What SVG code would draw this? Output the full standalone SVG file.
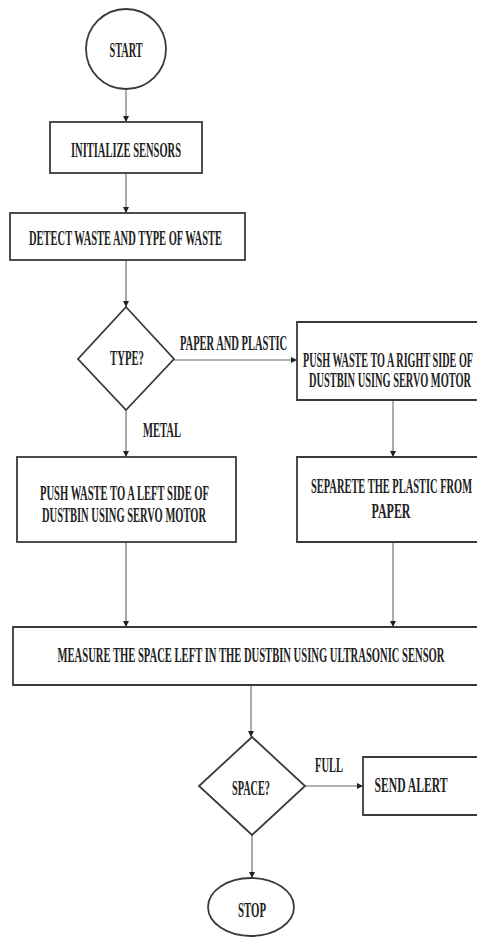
<svg xmlns="http://www.w3.org/2000/svg" width="477" height="937" viewBox="0 0 477 937">
<style>
.shape{fill:#fff;stroke:#3a3a3a;stroke-width:1.8}
.open{fill:#fff;stroke:#3a3a3a;stroke-width:1.8}
.conn{stroke:#666;stroke-width:1.1;fill:none;marker-end:url(#ah)}
text{font-family:"Liberation Serif","Times New Roman",serif;font-weight:bold;font-size:20px;fill:#222;text-anchor:middle}
</style>
<defs>
<marker id="ah" viewBox="0 0 10 10" refX="10" refY="5" markerWidth="6" markerHeight="6" markerUnits="userSpaceOnUse" orient="auto">
<path d="M0,0 L10,5 L0,10 z" fill="#222"/>
</marker>
</defs>
<rect width="477" height="937" fill="#fff"/>
<g id="connectors">
<line class="conn" x1="126" y1="89" x2="126" y2="122"/>
<line class="conn" x1="126" y1="173" x2="126" y2="213"/>
<line class="conn" x1="126" y1="260" x2="126" y2="307"/>
<line class="conn" x1="174" y1="360" x2="297" y2="360"/>
<line class="conn" x1="126" y1="410" x2="126" y2="457"/>
<line class="conn" x1="393" y1="400" x2="393" y2="457"/>
<line class="conn" x1="126" y1="542" x2="126" y2="627"/>
<line class="conn" x1="393" y1="542" x2="393" y2="627"/>
<line class="conn" x1="251" y1="685" x2="251" y2="737"/>
<line class="conn" x1="305" y1="786" x2="363" y2="786"/>
<line class="conn" x1="252" y1="835" x2="252" y2="878"/>
<text transform="translate(233.5,350) scale(0.52,1)" textLength="206" lengthAdjust="spacingAndGlyphs">PAPER AND PLASTIC</text>
<text transform="translate(162,437) scale(0.52,1)" textLength="73" lengthAdjust="spacingAndGlyphs">METAL</text>
<text transform="translate(329,772) scale(0.52,1)" textLength="54" lengthAdjust="spacingAndGlyphs">FULL</text>
</g>
<g id="start">
<circle class="shape" cx="126" cy="49" r="40"/>
<text transform="translate(126,57) scale(0.52,1)" textLength="63.5" lengthAdjust="spacingAndGlyphs">START</text>
</g>
<g id="init">
<rect class="shape" x="50" y="122" width="152" height="51"/>
<text transform="translate(126,157) scale(0.52,1)" textLength="211.5" lengthAdjust="spacingAndGlyphs">INITIALIZE SENSORS</text>
</g>
<g id="detect">
<rect class="shape" x="10" y="213" width="235" height="47"/>
<text transform="translate(125.5,245) scale(0.52,1)" textLength="371" lengthAdjust="spacingAndGlyphs">DETECT WASTE AND TYPE OF WASTE</text>
</g>
<g id="type">
<polygon class="shape" points="126,307 174,359 126,410 78,359"/>
<text transform="translate(127,365) scale(0.52,1)" textLength="65" lengthAdjust="spacingAndGlyphs">TYPE?</text>
</g>
<g id="pushRight">
<path class="open" d="M477,322 H297 V400 H477"/>
<text transform="translate(388,367) scale(0.52,1)" textLength="327" lengthAdjust="spacingAndGlyphs">PUSH WASTE  TO A RIGHT SIDE OF</text>
<text transform="translate(390,387) scale(0.52,1)" textLength="311.5" lengthAdjust="spacingAndGlyphs">DUSTBIN USING SERVO MOTOR</text>
</g>
<g id="pushLeft">
<rect class="shape" x="17" y="457" width="219" height="85"/>
<text transform="translate(124.5,500) scale(0.52,1)" textLength="325" lengthAdjust="spacingAndGlyphs">PUSH WASTE  TO A LEFT SIDE OF</text>
<text transform="translate(124,522) scale(0.52,1)" textLength="315.4" lengthAdjust="spacingAndGlyphs">DUSTBIN USING SERVO MOTOR</text>
</g>
<g id="separate">
<path class="open" d="M477,457 H297 V542 H477"/>
<text transform="translate(391.5,493) scale(0.52,1)" textLength="309.6" lengthAdjust="spacingAndGlyphs">SEPARETE THE PLASTIC FROM</text>
<text transform="translate(391,518) scale(0.52,1)" textLength="75" lengthAdjust="spacingAndGlyphs">PAPER</text>
</g>
<g id="measure">
<path class="open" d="M477,627 H13 V685 H477"/>
<text transform="translate(251,662) scale(0.52,1)" textLength="744" lengthAdjust="spacingAndGlyphs">MEASURE THE SPACE LEFT IN THE  DUSTBIN USING ULTRASONIC SENSOR</text>
</g>
<g id="space">
<polygon class="shape" points="252,737 305,786 252,835 199,786"/>
<text transform="translate(251,795) scale(0.52,1)" textLength="73" lengthAdjust="spacingAndGlyphs">SPACE?</text>
</g>
<g id="alert">
<path class="open" d="M477,757 H363 V815 H477"/>
<text transform="translate(411,792) scale(0.52,1)" textLength="140" lengthAdjust="spacingAndGlyphs">SEND ALERT</text>
</g>
<g id="stop">
<ellipse class="shape" cx="251" cy="907" rx="43" ry="29"/>
<text transform="translate(252,917) scale(0.52,1)" textLength="54" lengthAdjust="spacingAndGlyphs">STOP</text>
</g>
</svg>
